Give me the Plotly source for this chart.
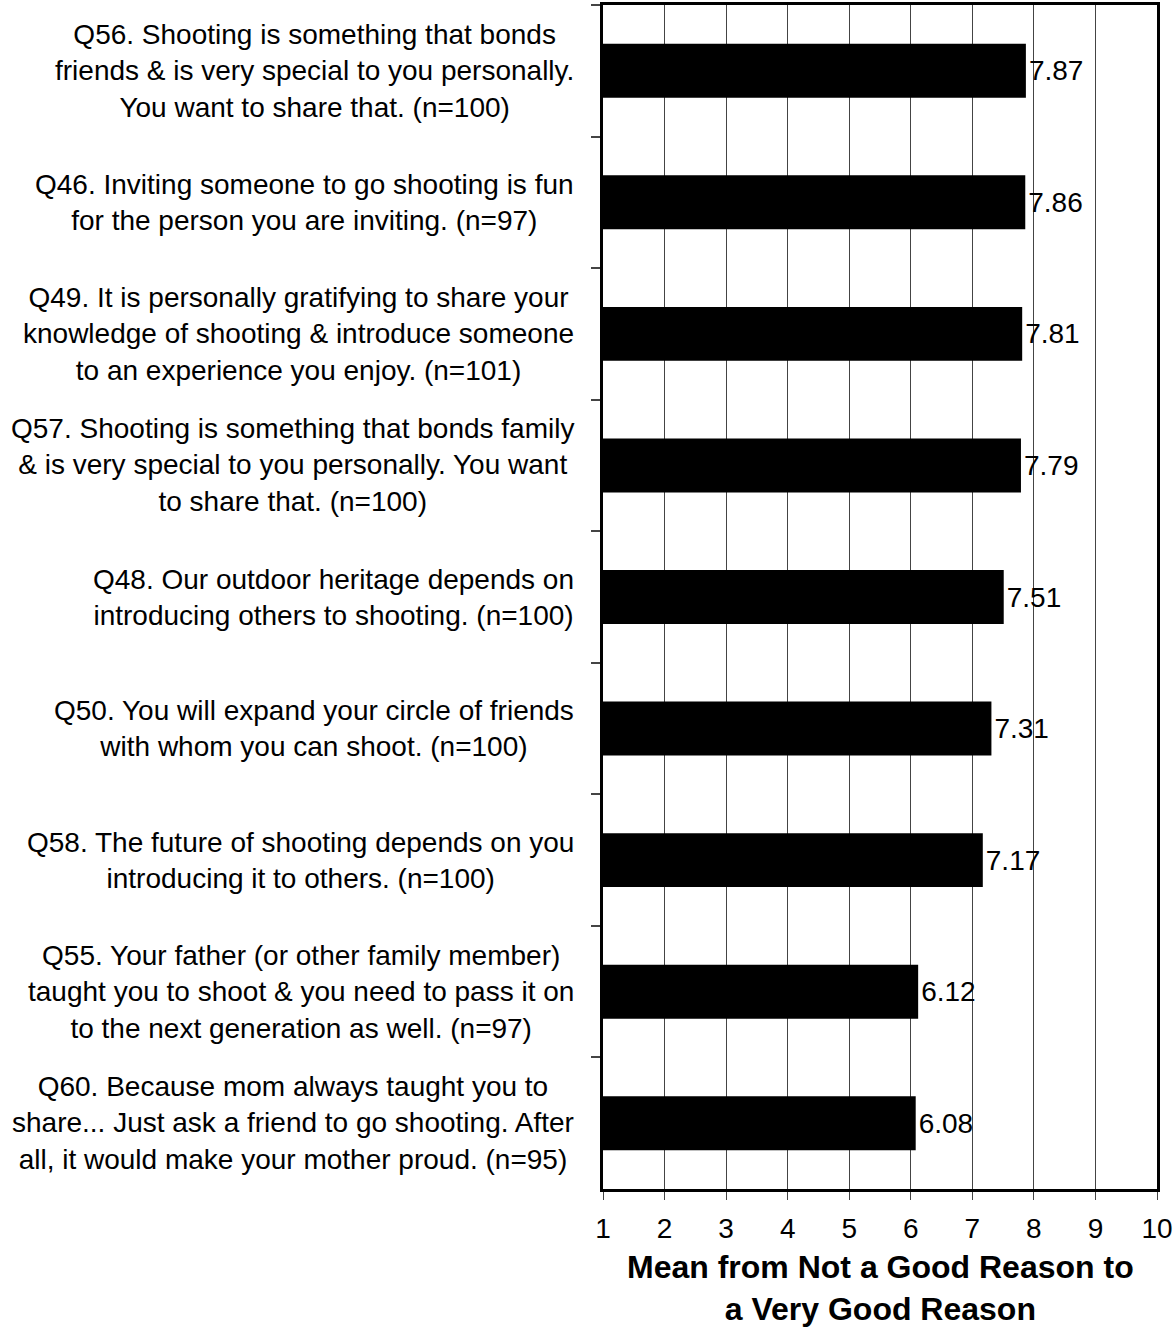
import plotly.graph_objects as go

ids = ["Q56", "Q46", "Q49", "Q57", "Q48", "Q50", "Q58", "Q55", "Q60"]
labels = [
    "Q56. Shooting is something that bonds<br>friends & is very special to you personally.<br>You want to share that. (n=100)",
    "Q46. Inviting someone to go shooting is fun<br>for the person you are inviting. (n=97)",
    "Q49. It is personally gratifying to share your<br>knowledge of shooting & introduce someone<br>to an experience you enjoy. (n=101)",
    "Q57. Shooting is something that bonds family<br>& is very special to you personally. You want<br>to share that. (n=100)",
    "Q48. Our outdoor heritage depends on<br>introducing others to shooting. (n=100)",
    "Q50. You will expand your circle of friends<br>with whom you can shoot. (n=100)",
    "Q58. The future of shooting depends on you<br>introducing it to others. (n=100)",
    "Q55. Your father (or other family member)<br>taught you to shoot & you need to pass it on<br>to the next generation as well. (n=97)",
    "Q60. Because mom always taught you to<br>share... Just ask a friend to go shooting. After<br>all, it would make your mother proud. (n=95)",
]
means = [7.87, 7.86, 7.81, 7.79, 7.51, 7.31, 7.17, 6.12, 6.08]
x_ticks = [1, 2, 3, 4, 5, 6, 7, 8, 9, 10]
x_title = "<b>Mean from Not a Good Reason to<br>a Very Good Reason</b>"

FONT = "Liberation Sans, Arial, sans-serif"

fig = go.Figure()
fig.add_trace(go.Bar(
    y=ids, x=[m - 1 for m in means], base=1, orientation="h",
    marker=dict(color="black", line=dict(width=0)),
    width=0.41,
    text=[f"{m:.2f}" for m in means], textposition="outside",
    textfont=dict(size=28, color="black", family=FONT),
    cliponaxis=False, hoverinfo="skip",
))

for qid, lab in zip(ids, labels):
    fig.add_annotation(
        xref="paper", yref="y", x=-0.048, y=qid, text=lab,
        xanchor="right", yanchor="middle", align="center", showarrow=False,
        font=dict(size=28, color="black", family=FONT),
    )

# x-axis title
fig.add_annotation(
    xref="paper", yref="paper", x=0.5, y=-0.049, text=x_title,
    xanchor="center", yanchor="top", align="center", showarrow=False,
    font=dict(size=32, color="black", family=FONT),
)

fig.update_layout(
    width=1174, height=1330,
    margin=dict(l=603, r=17, t=5, b=141),
    paper_bgcolor="white", plot_bgcolor="white",
    showlegend=False,
    font=dict(family=FONT, color="black", size=28),
    xaxis=dict(
        range=[1, 10], tickvals=x_ticks, ticktext=[str(t) for t in x_ticks],
        showgrid=True, gridcolor="#444444", gridwidth=1,
        showline=True, linecolor="black", linewidth=3, mirror=True,
        ticks="outside", ticklen=8, tickwidth=1, tickcolor="#444444",
        tickfont=dict(size=28, family=FONT, color="black"),
        ticklabelstandoff=4, automargin=False,
        zeroline=False,
    ),
    yaxis=dict(
        categoryorder="array", categoryarray=ids, autorange="reversed",
        showticklabels=False, tickson="boundaries", automargin=False,
        ticks="outside", ticklen=9, tickwidth=2, tickcolor="#444444",
        showline=True, linecolor="black", linewidth=3, mirror=True,
        showgrid=False, zeroline=False,
    ),
)

fig.write_html("out.html", config={"displayModeBar": False},
               post_script="document.body.style.margin='0';")
